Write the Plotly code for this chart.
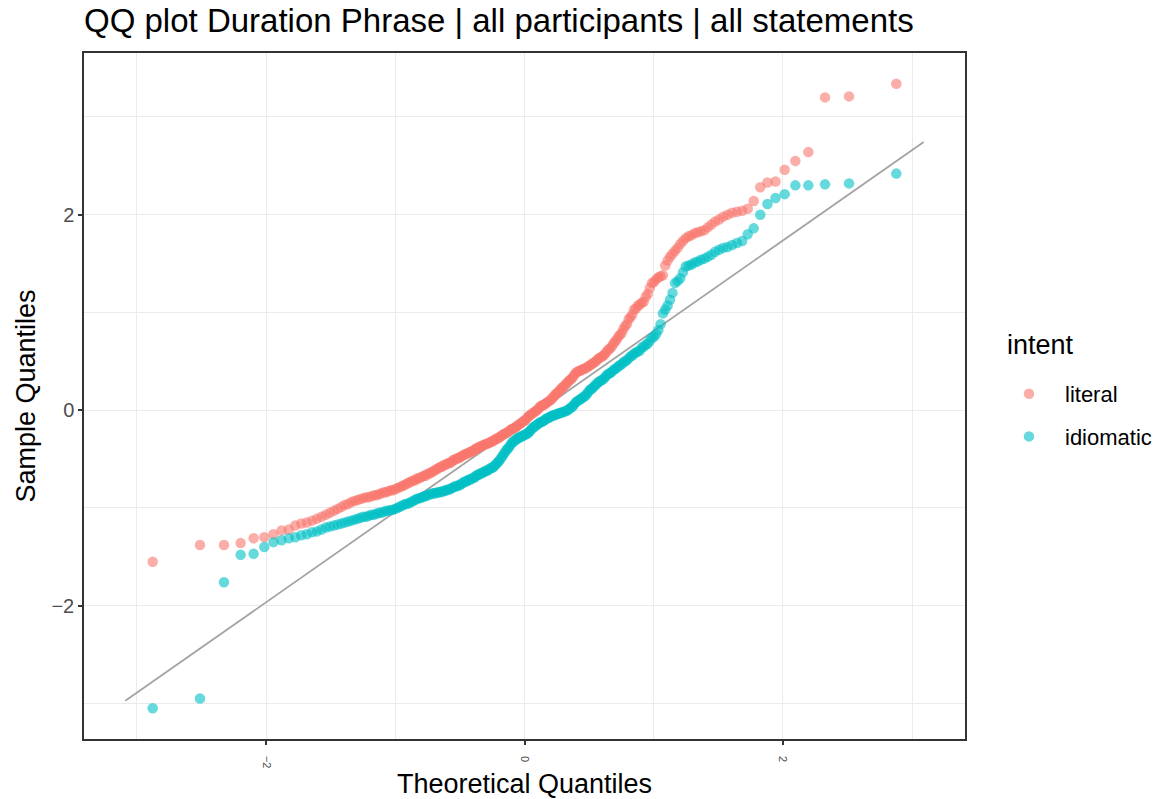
import plotly.graph_objects as go
from statistics import NormalDist

title_text = "QQ plot Duration Phrase | all participants | all statements"
x_title = "Theoretical Quantiles"
y_title = "Sample Quantiles"
legend_title = "intent"
groups = ["literal", "idiomatic"]
group_colors = ["#F8766D", "#00BFC4"]

# sorted sample values (sample quantiles) per group
literal_sorted = [
    -1.55, -1.38, -1.38, -1.36, -1.31, -1.30, -1.27, -1.23, -1.22, -1.18,
    -1.16, -1.15, -1.13, -1.11, -1.09, -1.07, -1.05, -1.03, -1.01, -0.99,
    -0.97, -0.96, -0.94, -0.93, -0.92, -0.91, -0.90, -0.89, -0.89, -0.88,
    -0.87, -0.87, -0.86, -0.85, -0.84, -0.84, -0.83, -0.82, -0.82, -0.81,
    -0.80, -0.79, -0.78, -0.77, -0.76, -0.75, -0.74, -0.73, -0.72, -0.72,
    -0.70, -0.70, -0.69, -0.68, -0.67, -0.67, -0.65, -0.65, -0.64, -0.63,
    -0.62, -0.61, -0.60, -0.59, -0.58, -0.58, -0.56, -0.56, -0.55, -0.54,
    -0.54, -0.53, -0.51, -0.51, -0.50, -0.49, -0.49, -0.48, -0.47, -0.46,
    -0.45, -0.45, -0.44, -0.43, -0.43, -0.42, -0.41, -0.41, -0.39, -0.39,
    -0.38, -0.37, -0.37, -0.36, -0.35, -0.35, -0.34, -0.34, -0.33, -0.32,
    -0.32, -0.31, -0.30, -0.29, -0.29, -0.28, -0.27, -0.26, -0.25, -0.24,
    -0.24, -0.23, -0.22, -0.21, -0.20, -0.19, -0.19, -0.18, -0.17, -0.16,
    -0.15, -0.14, -0.13, -0.12, -0.11, -0.10, -0.09, -0.07, -0.06, -0.05,
    -0.04, -0.03, -0.02, -0.01, 0.00, 0.01, 0.03, 0.04, 0.05, 0.05,
    0.06, 0.07, 0.08, 0.09, 0.10, 0.11, 0.13, 0.14, 0.16, 0.17,
    0.18, 0.20, 0.21, 0.23, 0.24, 0.25, 0.27, 0.28, 0.30, 0.31,
    0.32, 0.34, 0.36, 0.38, 0.39, 0.40, 0.40, 0.41, 0.42, 0.42,
    0.43, 0.44, 0.45, 0.46, 0.47, 0.48, 0.49, 0.50, 0.52, 0.53,
    0.54, 0.55, 0.56, 0.58, 0.60, 0.62, 0.63, 0.65, 0.68, 0.70,
    0.72, 0.75, 0.77, 0.79, 0.83, 0.86, 0.88, 0.93, 0.95, 0.98,
    1.03, 1.04, 1.07, 1.08, 1.10, 1.11, 1.16, 1.19, 1.25, 1.30,
    1.31, 1.34, 1.36, 1.37, 1.38, 1.48, 1.53, 1.57, 1.60, 1.63,
    1.66, 1.70, 1.73, 1.76, 1.78, 1.79, 1.81, 1.82, 1.83, 1.84,
    1.87, 1.90, 1.93, 1.95, 1.98, 2.00, 2.02, 2.03, 2.04, 2.06,
    2.14, 2.28, 2.33, 2.34, 2.46, 2.55, 2.64, 3.20, 3.21, 3.34,
]

idiomatic_sorted = [
    -3.05, -2.95, -1.76, -1.48, -1.47, -1.40, -1.35, -1.33, -1.31, -1.30,
    -1.28, -1.27, -1.25, -1.24, -1.22, -1.20, -1.19, -1.18, -1.17, -1.16,
    -1.15, -1.14, -1.13, -1.12, -1.11, -1.10, -1.09, -1.09, -1.08, -1.07,
    -1.07, -1.06, -1.05, -1.05, -1.04, -1.03, -1.03, -1.02, -1.02, -1.01,
    -1.00, -0.99, -0.98, -0.97, -0.96, -0.96, -0.95, -0.94, -0.93, -0.92,
    -0.91, -0.90, -0.90, -0.89, -0.88, -0.88, -0.87, -0.86, -0.86, -0.85,
    -0.85, -0.85, -0.84, -0.84, -0.84, -0.83, -0.83, -0.82, -0.82, -0.81,
    -0.81, -0.80, -0.79, -0.78, -0.78, -0.77, -0.77, -0.76, -0.75, -0.74,
    -0.73, -0.73, -0.72, -0.71, -0.71, -0.70, -0.69, -0.69, -0.67, -0.66,
    -0.66, -0.65, -0.64, -0.64, -0.63, -0.62, -0.62, -0.61, -0.60, -0.59,
    -0.59, -0.58, -0.56, -0.55, -0.53, -0.52, -0.50, -0.48, -0.46, -0.44,
    -0.42, -0.40, -0.39, -0.37, -0.35, -0.33, -0.32, -0.31, -0.30, -0.29,
    -0.28, -0.28, -0.27, -0.26, -0.26, -0.25, -0.24, -0.24, -0.22, -0.21,
    -0.19, -0.18, -0.17, -0.16, -0.15, -0.14, -0.13, -0.12, -0.12, -0.11,
    -0.10, -0.09, -0.08, -0.08, -0.07, -0.06, -0.06, -0.05, -0.05, -0.04,
    -0.04, -0.03, -0.03, -0.02, -0.02, -0.01, -0.01, 0.00, 0.01, 0.02,
    0.03, 0.04, 0.06, 0.08, 0.09, 0.10, 0.11, 0.12, 0.13, 0.14,
    0.15, 0.17, 0.19, 0.21, 0.22, 0.23, 0.25, 0.26, 0.28, 0.29,
    0.30, 0.31, 0.32, 0.34, 0.36, 0.37, 0.38, 0.39, 0.41, 0.42,
    0.43, 0.45, 0.46, 0.47, 0.49, 0.50, 0.51, 0.53, 0.55, 0.56,
    0.58, 0.59, 0.60, 0.61, 0.64, 0.65, 0.67, 0.68, 0.71, 0.74,
    0.75, 0.78, 0.82, 0.88, 0.99, 1.03, 1.07, 1.13, 1.20, 1.30,
    1.32, 1.35, 1.41, 1.47, 1.48, 1.49, 1.51, 1.52, 1.54, 1.55,
    1.57, 1.59, 1.62, 1.64, 1.66, 1.67, 1.69, 1.71, 1.73, 1.80,
    1.86, 2.00, 2.11, 2.17, 2.21, 2.30, 2.30, 2.31, 2.32, 2.42,
]

# reference line (stat_qq_line over all data)
qq_line_intercept = -0.115
qq_line_slope = 0.925

x_tick_values = [-2, 0, 2]
y_tick_values = [-2, 0, 2]


def theoretical_quantiles(n):
    """Normal theoretical quantiles at ppoints(n), as stat_qq does."""
    nd = NormalDist()
    a = 3 / 8 if n <= 10 else 0.5
    return [nd.inv_cdf((i + 1 - a) / (n + 1 - 2 * a)) for i in range(n)]


series = [literal_sorted, idiomatic_sorted]
FONT = "Liberation Sans, Arial, sans-serif"

W, H = 1158, 799
ML, MR, MT, MB = 84, 193, 53, 60
PW, PH = W - ML - MR, H - MT - MB

fig = go.Figure()

# reference line first (underneath points)
n_all = sum(len(s) for s in series)
tq_all = theoretical_quantiles(n_all)
line_x = [tq_all[0], tq_all[-1]]
line_y = [qq_line_intercept + qq_line_slope * v for v in line_x]
fig.add_trace(go.Scatter(
    x=line_x, y=line_y, mode="lines",
    line=dict(color="#A3A3A3", width=1.8),
    showlegend=False, hoverinfo="skip",
))

for name, color, vals in zip(groups, group_colors, series):
    fig.add_trace(go.Scatter(
        x=theoretical_quantiles(len(vals)), y=vals, mode="markers",
        name=name, legendgroup=name,
        marker=dict(color=color, size=10.5, opacity=0.6, line=dict(width=0)),
    ))

axis_common = dict(
    showline=True, mirror=True, linecolor="#333333", linewidth=1.5,
    ticks="outside", ticklen=4, tickwidth=1.5, tickcolor="#333333",
    showgrid=True, gridcolor="#EBEBEB", gridwidth=1.4,
    zeroline=False, automargin=False,
    minor=dict(dtick=1, showgrid=True, gridcolor="#EBEBEB", gridwidth=0.7),
)

fig.update_layout(
    width=W, height=H,
    margin=dict(l=ML, r=MR, t=MT, b=MB, autoexpand=False),
    paper_bgcolor="white", plot_bgcolor="white",
    font=dict(family=FONT, color="black"),
    title=dict(
        text=title_text, font=dict(size=33, color="black", family=FONT),
        x=84 / W, xanchor="left", xref="container",
        y=1 - 20 / H, yanchor="middle", yref="container",
    ),
    xaxis=dict(
        axis_common,
        range=[-3.41, 3.41], tickmode="array", tickvals=x_tick_values,
        ticktext=[str(v).replace("-", "\u2212") for v in x_tick_values],
        tickangle=90, tickfont=dict(size=11, color="#4D4D4D", family=FONT),
        ticklabelstandoff=9,
        title=dict(text=x_title, font=dict(size=27, color="black", family=FONT), standoff=12),
    ),
    yaxis=dict(
        axis_common,
        range=[-3.364, 3.654], tickmode="array", tickvals=y_tick_values,
        ticktext=[str(v).replace("-", "\u2212") for v in y_tick_values],
        tickfont=dict(size=20, color="#4D4D4D", family=FONT),
        title=dict(text=y_title, font=dict(size=27, color="black", family=FONT), standoff=8),
    ),
    legend=dict(
        font=dict(size=22, color="black", family=FONT),
        x=(993 - ML) / PW, xanchor="left",
        y=1 - (373 - MT) / PH, yanchor="top",
        tracegroupgap=11, itemwidth=62,
        bgcolor="rgba(0,0,0,0)",
    ),
    annotations=[dict(
        text=legend_title, showarrow=False,
        xref="paper", yref="paper",
        x=(1005 - ML) / PW, xanchor="left",
        y=1 - (345 - MT) / PH, yanchor="middle",
        font=dict(size=27, color="black", family=FONT),
    )],
)

fig.write_html("out.html")
